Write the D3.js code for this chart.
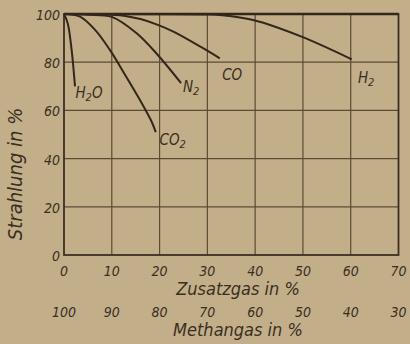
<!DOCTYPE html>
<meta charset="utf-8">
<style>
body { margin: 0; background: #c3ae8a; }
text {
    font-family: "DejaVu Sans Condensed", "Liberation Sans Narrow", sans-serif;
    font-style: oblique;
    fill: #3a2e20;
  }
</style>
<body>
<script src="https://d3js.org/d3.v7.min.js"></script>
<script>

// Zusatzgas (%) vs Strahlung (%)
var h2oX = [0, 0.8, 1.6, 2.0, 2.3];
var h2oY = [100, 96, 85, 77, 70];
var co2X = [0, 3.35, 6.5, 9.6, 12.8, 15.9, 18.3, 19.2];
var co2Y = [100, 98.9, 93.4, 85.1, 74.7, 64.3, 55.5, 51];
var n2X = [0, 5, 10, 15.2, 19.4, 24.5];
var n2Y = [100, 99.7, 98.8, 92, 83.5, 71.3];
var coX = [0, 8, 12.5, 16, 19.5, 23, 29.1, 32.6];
var coY = [100, 99.9, 99.3, 97.9, 95.6, 92.6, 85.8, 81.6];
var h2X = [0, 30, 33, 39.6, 49.7, 60.2];
var h2Y = [100, 99.8, 99.5, 97.5, 90.6, 81.2];

var labels = [
  {name: "H", sub: "2", tail: "O", x: 2.4, y: 65},
  {name: "CO", sub: "2", tail: "", x: 20.0, y: 45.5},
  {name: "N", sub: "2", tail: "", x: 24.9, y: 67.5},
  {name: "CO", sub: "", tail: "", x: 33.1, y: 72.5},
  {name: "H", sub: "2", tail: "", x: 61.5, y: 71.5}
];

var xTicks = [0, 10, 20, 30, 40, 50, 60, 70];
var methanTicks = [100, 90, 80, 70, 60, 50, 40, 30];
var yTicks = [0, 20, 40, 60, 80, 100];

var width = 410, height = 344;
var margin = {top: 14, right: 11.5, bottom: 89, left: 64};

var x = d3.scaleLinear().domain([0, 70])
  .range([margin.left, width - margin.right]);
var y = d3.scaleLinear().domain([0, 100])
  .range([height - margin.bottom, margin.top]);

var svg = d3.select("body").append("svg")
  .attr("width", width)
  .attr("height", height);

// grid
svg.append("g").selectAll("line")
  .data(xTicks.slice(1, -1))
  .enter().append("line")
    .attr("x1", function(d) { return x(d); })
    .attr("x2", function(d) { return x(d); })
    .attr("y1", y(100))
    .attr("y2", y(0))
    .attr("stroke", "#5c4a33")
    .attr("stroke-width", 1.2);
svg.append("g").selectAll("line")
  .data(yTicks.slice(1, -1))
  .enter().append("line")
    .attr("x1", x(0))
    .attr("x2", x(70))
    .attr("y1", function(d) { return y(d); })
    .attr("y2", function(d) { return y(d); })
    .attr("stroke", "#5c4a33")
    .attr("stroke-width", 1.2);

// frame
svg.append("rect")
  .attr("x", x(0)).attr("y", y(100))
  .attr("width", x(70) - x(0)).attr("height", y(0) - y(100))
  .attr("fill", "none")
  .attr("stroke", "#3d2f20")
  .attr("stroke-width", 1.8);
svg.append("line")
  .attr("x1", x(0)).attr("x2", x(70))
  .attr("y1", y(100)).attr("y2", y(100))
  .attr("stroke", "#33261a")
  .attr("stroke-width", 2.6);

// curves
var line = d3.line()
  .x(function(d) { return x(d[0]); })
  .y(function(d) { return y(d[1]); })
  .curve(d3.curveCatmullRom.alpha(0.5));

[[h2oX, h2oY], [co2X, co2Y], [n2X, n2Y], [coX, coY], [h2X, h2Y]].forEach(function(s) {
  svg.append("path")
    .datum(d3.zip(s[0], s[1]))
    .attr("d", line)
    .attr("fill", "none")
    .attr("stroke", "#33261a")
    .attr("stroke-width", 2);
});

// curve labels
labels.forEach(function(l) {
  var t = svg.append("text")
    .attr("x", x(l.x))
    .attr("y", y(l.y))
    .attr("font-size", 15);
  t.append("tspan").text(l.name);
  if (l.sub) t.append("tspan").attr("dy", 3).attr("font-size", 11).text(l.sub);
  if (l.tail) t.append("tspan").attr("dy", -3).text(l.tail);
});

// y tick labels
svg.append("g").selectAll("text")
  .data(yTicks)
  .enter().append("text")
    .attr("x", x(0) - 4)
    .attr("y", function(d) { return y(d) + 6; })
    .attr("text-anchor", "end")
    .attr("font-size", 14)
    .text(function(d) { return d; });

// x tick labels
svg.append("g").selectAll("text")
  .data(xTicks)
  .enter().append("text")
    .attr("x", function(d) { return x(d); })
    .attr("y", 276)
    .attr("text-anchor", "middle")
    .attr("font-size", 14)
    .text(function(d) { return d; });

svg.append("g").selectAll("text")
  .data(methanTicks)
  .enter().append("text")
    .attr("x", function(d, i) { return x(xTicks[i]); })
    .attr("y", 317)
    .attr("text-anchor", "middle")
    .attr("font-size", 14)
    .text(function(d) { return d; });

// axis titles
svg.append("text")
  .attr("x", 238).attr("y", 295)
  .attr("text-anchor", "middle")
  .attr("font-size", 18)
  .text("Zusatzgas in %");
svg.append("text")
  .attr("x", 238).attr("y", 336)
  .attr("text-anchor", "middle")
  .attr("font-size", 18)
  .text("Methangas in %");
svg.append("text")
  .attr("transform", "translate(22,174) rotate(-90)")
  .attr("text-anchor", "middle")
  .attr("font-size", 20)
  .text("Strahlung in %");

</script>
</body>
